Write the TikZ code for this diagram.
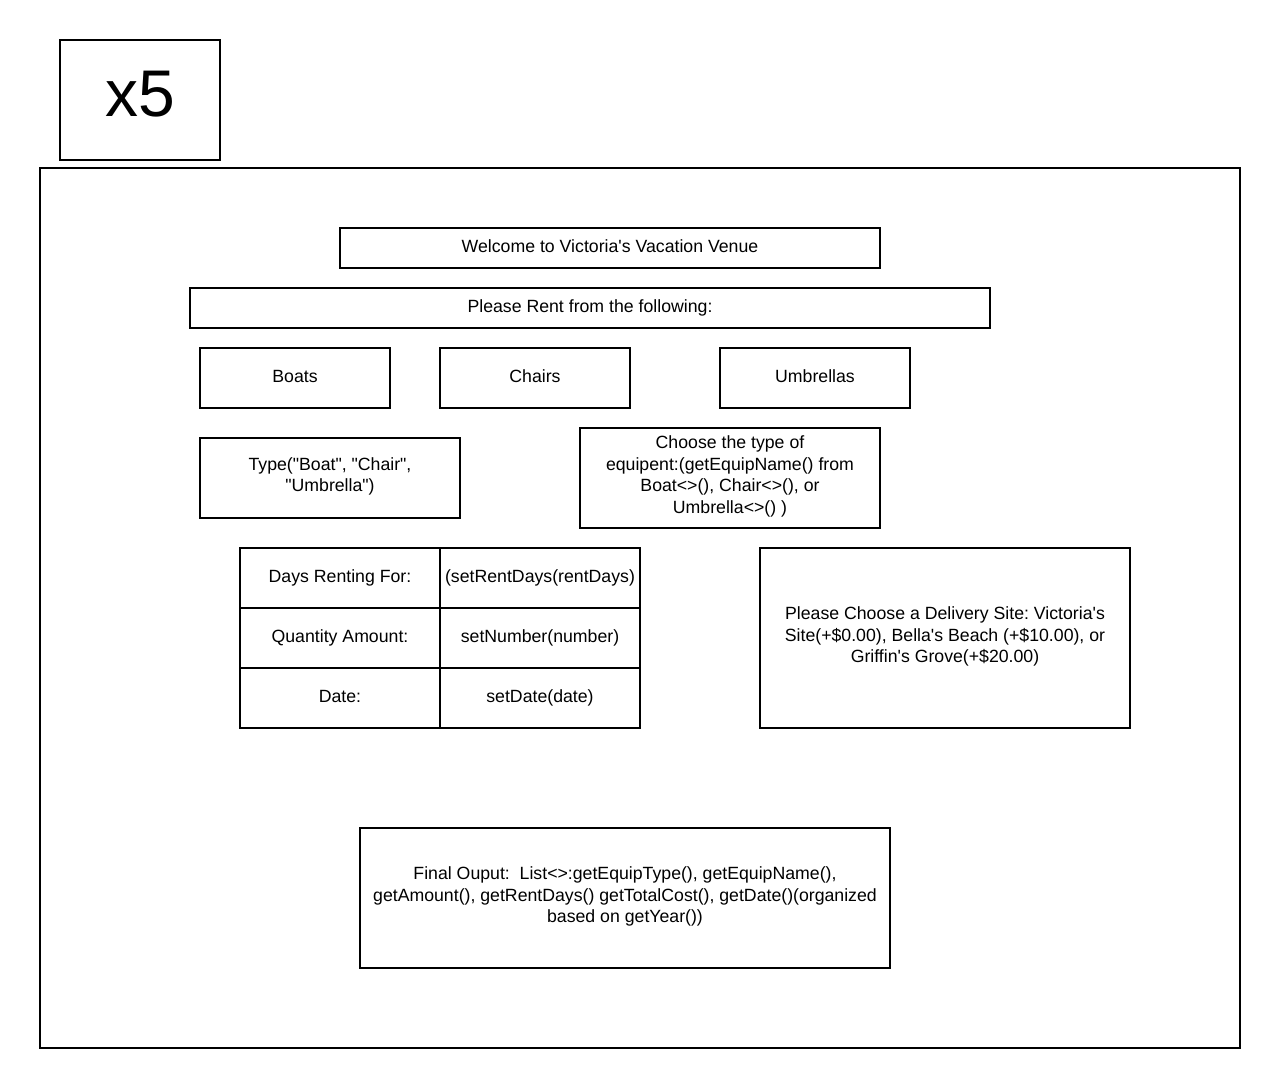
\documentclass[tikz,border=0pt]{standalone}
\usepackage{fontspec}
\setmainfont{Liberation Sans}[Ligatures=TeXOff]
\usepackage{tikz}
\frenchspacing

\begin{document}
\begin{tikzpicture}[x=1pt,y=1pt,yscale=-1,xscale=1,
  box/.style={draw=black, line width=1.5pt, anchor=north west, inner sep=0.75pt, outer sep=0pt, align=center, font=\fontsize{17.7}{21.6}\selectfont, execute at begin node=\strut, execute at end node=\strut},
  cell/.style={box, minimum width=200, minimum height=60}]
\useasboundingbox (0,0) rectangle (1280,1088);

%Shape: Rectangle [multiplier]
\node [box, minimum width=160, minimum height=120, font=\fontsize{66}{80}\selectfont, execute at begin node={}, execute at end node={}] (times) at (60,40) {x5};
%Shape: Rectangle [frame]
\node [box, minimum width=1200, minimum height=880] (frame) at (40,168) {};

% Text Node
\node [box, minimum width=540, minimum height=40] (welcome) at (340,228) {Welcome to Victoria's Vacation Venue};
% Text Node
\node [box, minimum width=800, minimum height=40] (rent) at (190,288) {Please Rent from the following:};

% Text Node
\node [box, minimum width=190, minimum height=60] (boats) at (200,348) {Boats};
% Text Node
\node [box, minimum width=190, minimum height=60] (chairs) at (440,348) {Chairs};
% Text Node
\node [box, minimum width=190, minimum height=60] (umbrellas) at (720,348) {Umbrellas};

% Text Node
\node [box, minimum width=260, minimum height=80] (type) at (200,438) {Type("Boat", "Chair",\\"Umbrella")};
% Text Node
\node [box, minimum width=300, minimum height=100] (choose) at (580,428) {Choose the type of\\equipent:(getEquipName() from\\Boat<>(), Chair<>(), or\\Umbrella<>() )};

%Table
\node [cell] (days) at (240,548) {Days Renting For:};
\node [cell] (setdays) at (440,548) {(setRentDays(rentDays)};
\node [cell] (qty) at (240,608) {Quantity Amount:};
\node [cell] (setqty) at (440,608) {setNumber(number)};
\node [cell] (date) at (240,668) {Date:};
\node [cell] (setdate) at (440,668) {setDate(date)};

% Text Node
\node [box, minimum width=370, minimum height=180] (site) at (760,548) {Please Choose a Delivery Site: Victoria's\\Site(+\$0.00), Bella's Beach (+\$10.00), or\\Griffin's Grove(+\$20.00)};

% Text Node
\node [box, minimum width=530, minimum height=140] (output) at (360,828) {Final Ouput:~ List<>:getEquipType(), getEquipName(),\\getAmount(), getRentDays() getTotalCost(), getDate()(organized\\based on getYear())};

\end{tikzpicture}
\end{document}
